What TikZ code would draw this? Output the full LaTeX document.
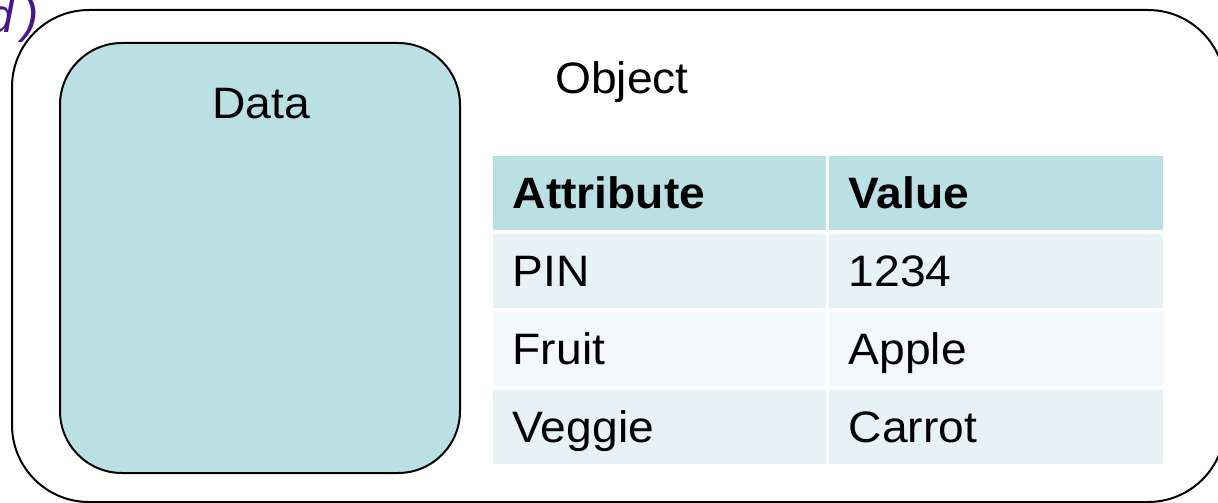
\documentclass[tikz,border=0pt]{standalone}
\usepackage{fontspec}
\setmainfont{Liberation Sans}[FakeStretch=1.05]
\newfontfamily\codefont{Liberation Mono}
\definecolor{boxteal}{HTML}{BBE0E3}
\definecolor{rowdark}{HTML}{E6F2F4}
\definecolor{rowlight}{HTML}{F2F8FA}
\definecolor{codepurple}{HTML}{46168A}

\begin{document}
\begin{tikzpicture}[x=1pt, y=-1pt,
  frame/.style={draw=black, line width=2pt, rounded corners=#1},
  cell/.style={rectangle, anchor=north west, minimum height=74pt,
    inner xsep=19.5pt, inner ysep=0pt, text height=31.5pt, text depth=0pt,
    align=left, font=\fontsize{44}{50}\selectfont},
  colA/.style={cell, minimum width=333pt, text width=294pt},
  colB/.style={cell, minimum width=334pt, text width=295pt},
  head/.style={fill=boxteal, font=\fontsize{44}{50}\selectfont\bfseries},
  label/.style={font=\fontsize{44}{50}\selectfont, inner sep=0pt}
]
\useasboundingbox (0,0) rectangle (1218,503);

% trailing code fragment in the corner
\node[anchor=base east, inner sep=0pt, text=codepurple,
  font=\codefont\itshape\fontsize{48}{50}\selectfont] (code) at (44,33) {d)};

% outer object container
\draw[frame=77pt] (12,10) rectangle (1225,502);

% data compartment
\draw[frame=62pt, fill=boxteal] (60,43) rectangle (460,473);
\node[label, anchor=base] (data) at (261,118) {Data};

% object caption
\node[label, anchor=base west] (object) at (555,93) {Object};

% attribute / value table
\node[colA, head] (h1) at (493,156) {Attribute};
\node[colB, head] (h2) at (829,156) {Value};
\node[colA, fill=rowdark]  (r1a) at (493,234) {PIN};
\node[colB, fill=rowdark]  (r1b) at (829,234) {1234};
\node[colA, fill=rowlight] (r2a) at (493,312) {Fruit};
\node[colB, fill=rowlight] (r2b) at (829,312) {Apple};
\node[colA, fill=rowdark]  (r3a) at (493,390) {Veggie};
\node[colB, fill=rowdark]  (r3b) at (829,390) {Carrot};
\end{tikzpicture}
\end{document}
